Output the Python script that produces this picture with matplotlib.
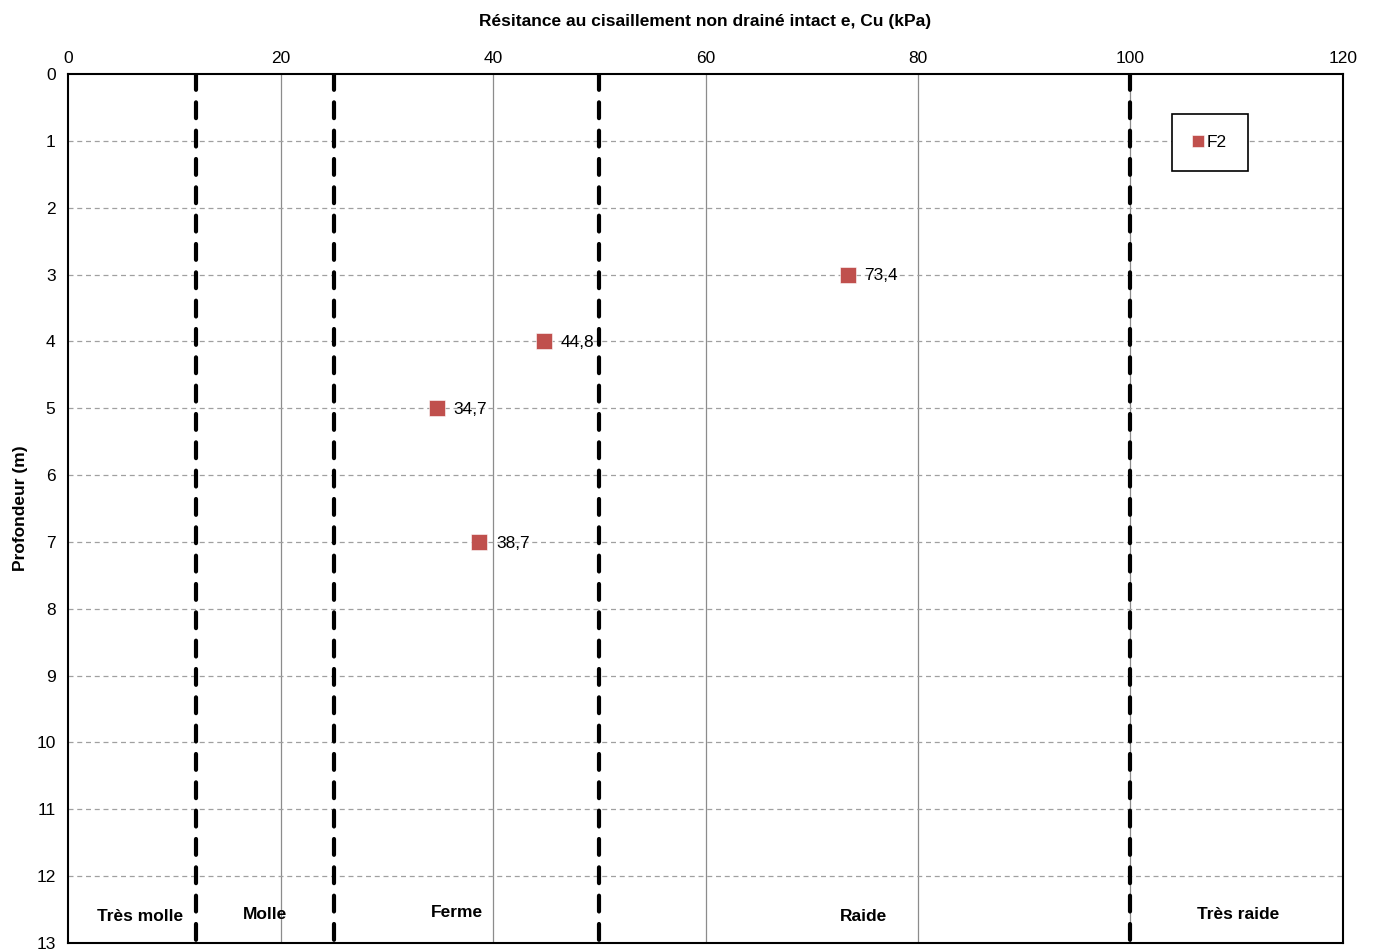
import matplotlib.pyplot as plt

plt.rcParams['font.family'] = ['Liberation Sans', 'DejaVu Sans']

# Données
cu = [73.4, 44.8, 34.7, 38.7]
profondeur = [3, 4, 5, 7]
etiquettes = ["73,4", "44,8", "34,7", "38,7"]

limites = [12, 25, 50, 100]
zones = ["Très molle", "Molle", "Ferme", "Raide", "Très raide"]
zones_x = [6.8, 18.5, 36.6, 74.9, 110.1]
zones_y = [12.6, 12.58, 12.54, 12.6, 12.58]

fig = plt.figure(figsize=(13.77, 9.49), dpi=100)
ax = fig.add_axes([0.0494, 0.0063, 0.9259, 0.9157])

ax.set_xlim(0, 120)
ax.set_ylim(13, 0)
ax.set_xticks(range(0, 121, 20))
ax.set_yticks(range(0, 14))
ax.xaxis.tick_top()
ax.xaxis.set_label_position("top")
ax.tick_params(length=0, labelsize=12.5)
ax.tick_params(axis="x", pad=6)
ax.tick_params(axis="y", pad=9)

# grilles
for x in range(20, 101, 20):
    ax.axvline(x, color="#8c8c8c", linewidth=0.9, zorder=1)
for y in range(1, 13):
    ax.axhline(y, color="#a0a0a0", linewidth=0.9, linestyle=(0, (4, 3)), zorder=1)

# limites de consistance
for x in limites:
    ax.plot([x, x], [0, 13], color="black", linewidth=3.0, linestyle=(0, (3.8, 3.0)),
            dash_capstyle="round", zorder=3)

ax.plot(cu, profondeur, linestyle="none", marker="s", markersize=11,
        color="#C0504D", markeredgecolor="white", markeredgewidth=0.4, label="F2", zorder=5)

for x, y, t in zip(cu, profondeur, etiquettes):
    ax.annotate(t, (x, y), textcoords="offset points", xytext=(12, -1),
                va="center", fontsize=12.5, zorder=6)

for t, x, y in zip(zones, zones_x, zones_y):
    ax.text(x, y, t, ha="center", va="center", fontsize=12.5, fontweight="bold", zorder=6)

for s in ax.spines.values():
    s.set_linewidth(1.5)

ax.set_xlabel("Résitance au cisaillement non drainé intact e, Cu (kPa)",
              fontsize=12.5, fontweight="bold", labelpad=18)
ax.set_ylabel("Profondeur (m)", fontsize=12.5, fontweight="bold", labelpad=6)

leg = ax.legend(loc="center", bbox_to_anchor=(0.8957, 0.9215), frameon=True,
                fancybox=False, edgecolor="black", handlelength=0.6, handletextpad=0.2,
                borderpad=1.2, markerscale=0.75, fontsize=12.5, borderaxespad=0)
leg.get_frame().set_linewidth(1.2)
leg.get_frame().set_alpha(1)
leg.set_zorder(10)

fig.savefig("out.png", dpi=100)
